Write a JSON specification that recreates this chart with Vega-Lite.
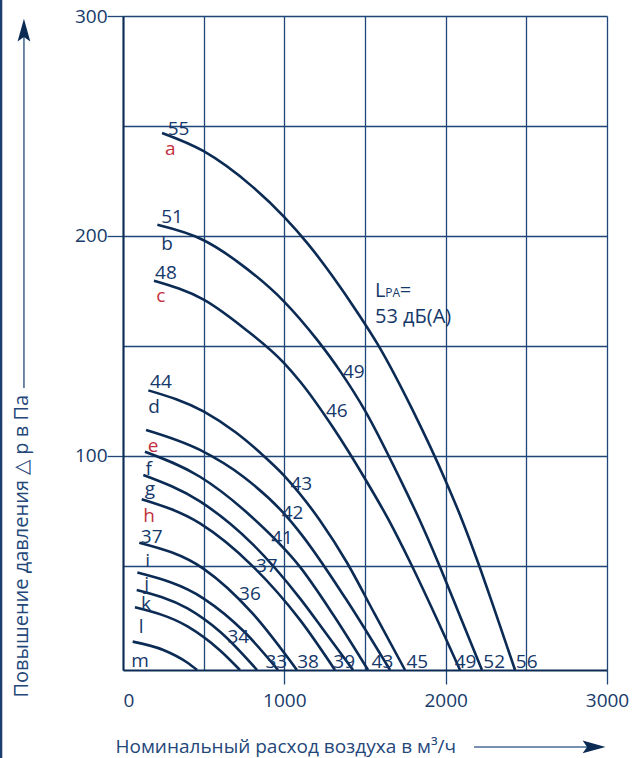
{
  "$schema": "https://vega.github.io/schema/vega-lite/v6.json",
  "width": 484,
  "height": 654,
  "autosize": "none",
  "padding": {"left": 123, "top": 16, "right": 25, "bottom": 88},
  "background": "white",
  "config": {
    "view": {"stroke": null},
    "font": "Open Sans",
    "text": {"font": "Open Sans"}
  },
  "datasets": {
    "curves": [
      {"curve": "a", "flow": 242, "pressure": 246.8},
      {"curve": "a", "flow": 500, "pressure": 238.5},
      {"curve": "a", "flow": 800, "pressure": 222.5},
      {"curve": "a", "flow": 1000, "pressure": 208.5},
      {"curve": "a", "flow": 1150, "pressure": 196},
      {"curve": "a", "flow": 1300, "pressure": 181.5},
      {"curve": "a", "flow": 1450, "pressure": 165.5},
      {"curve": "a", "flow": 1580, "pressure": 150.5},
      {"curve": "a", "flow": 1800, "pressure": 120},
      {"curve": "a", "flow": 2000, "pressure": 88.5},
      {"curve": "a", "flow": 2100, "pressure": 71},
      {"curve": "a", "flow": 2200, "pressure": 51.5},
      {"curve": "a", "flow": 2300, "pressure": 30.5},
      {"curve": "a", "flow": 2430, "pressure": 2.5},
      {"curve": "b", "flow": 213, "pressure": 205},
      {"curve": "b", "flow": 500, "pressure": 198},
      {"curve": "b", "flow": 750, "pressure": 186},
      {"curve": "b", "flow": 1000, "pressure": 170},
      {"curve": "b", "flow": 1200, "pressure": 153},
      {"curve": "b", "flow": 1350, "pressure": 138},
      {"curve": "b", "flow": 1500, "pressure": 120.5},
      {"curve": "b", "flow": 1720, "pressure": 89},
      {"curve": "b", "flow": 1840, "pressure": 70.5},
      {"curve": "b", "flow": 1950, "pressure": 52},
      {"curve": "b", "flow": 2100, "pressure": 25},
      {"curve": "b", "flow": 2225, "pressure": 2.5},
      {"curve": "c", "flow": 192, "pressure": 179.6},
      {"curve": "c", "flow": 500, "pressure": 171},
      {"curve": "c", "flow": 750, "pressure": 158},
      {"curve": "c", "flow": 1000, "pressure": 142},
      {"curve": "c", "flow": 1100, "pressure": 133.5},
      {"curve": "c", "flow": 1300, "pressure": 113},
      {"curve": "c", "flow": 1500, "pressure": 89.5},
      {"curve": "c", "flow": 1645, "pressure": 71},
      {"curve": "c", "flow": 1780, "pressure": 51.5},
      {"curve": "c", "flow": 1950, "pressure": 25},
      {"curve": "c", "flow": 2089, "pressure": 2.5},
      {"curve": "d", "flow": 157, "pressure": 129.7},
      {"curve": "d", "flow": 502, "pressure": 120},
      {"curve": "d", "flow": 700, "pressure": 110.5},
      {"curve": "d", "flow": 870, "pressure": 100},
      {"curve": "d", "flow": 1004, "pressure": 90.5},
      {"curve": "d", "flow": 1221, "pressure": 70.5},
      {"curve": "d", "flow": 1387, "pressure": 51.5},
      {"curve": "d", "flow": 1560, "pressure": 28},
      {"curve": "d", "flow": 1748, "pressure": 2.5},
      {"curve": "e", "flow": 143, "pressure": 111.7},
      {"curve": "e", "flow": 477, "pressure": 102.6},
      {"curve": "e", "flow": 746, "pressure": 90.4},
      {"curve": "e", "flow": 1000, "pressure": 73.5},
      {"curve": "e", "flow": 1097, "pressure": 65},
      {"curve": "e", "flow": 1380, "pressure": 35},
      {"curve": "e", "flow": 1655, "pressure": 2.5},
      {"curve": "f", "flow": 136, "pressure": 101.8},
      {"curve": "f", "flow": 477, "pressure": 90.4},
      {"curve": "f", "flow": 800, "pressure": 72},
      {"curve": "f", "flow": 1097, "pressure": 49.4},
      {"curve": "f", "flow": 1300, "pressure": 28},
      {"curve": "f", "flow": 1519, "pressure": 2.5},
      {"curve": "g", "flow": 126, "pressure": 91.2},
      {"curve": "g", "flow": 477, "pressure": 79.2},
      {"curve": "g", "flow": 800, "pressure": 60},
      {"curve": "g", "flow": 1097, "pressure": 35.1},
      {"curve": "g", "flow": 1260, "pressure": 19},
      {"curve": "g", "flow": 1426, "pressure": 2.5},
      {"curve": "h", "flow": 116, "pressure": 80.2},
      {"curve": "h", "flow": 477, "pressure": 69.2},
      {"curve": "h", "flow": 800, "pressure": 50},
      {"curve": "h", "flow": 1097, "pressure": 25.3},
      {"curve": "h", "flow": 1314, "pressure": 2.5},
      {"curve": "i", "flow": 101, "pressure": 60.4},
      {"curve": "i", "flow": 500, "pressure": 48.5},
      {"curve": "i", "flow": 800, "pressure": 28.5},
      {"curve": "i", "flow": 1078, "pressure": 2.5},
      {"curve": "j", "flow": 89, "pressure": 46.8},
      {"curve": "j", "flow": 500, "pressure": 35},
      {"curve": "j", "flow": 750, "pressure": 20},
      {"curve": "j", "flow": 961, "pressure": 2.5},
      {"curve": "k", "flow": 85, "pressure": 38.9},
      {"curve": "k", "flow": 400, "pressure": 30.5},
      {"curve": "k", "flow": 600, "pressure": 20},
      {"curve": "k", "flow": 831, "pressure": 2.5},
      {"curve": "l", "flow": 74, "pressure": 31},
      {"curve": "l", "flow": 400, "pressure": 22.3},
      {"curve": "l", "flow": 600, "pressure": 11.5},
      {"curve": "l", "flow": 725, "pressure": 2.5},
      {"curve": "m", "flow": 60, "pressure": 15.4},
      {"curve": "m", "flow": 250, "pressure": 11.6},
      {"curve": "m", "flow": 400, "pressure": 5.8},
      {"curve": "m", "flow": 459, "pressure": 2.5}
    ],
    "labels": [
      {"text": "55", "flow": 344, "pressure": 245.9, "highlighted": false},
      {"text": "a", "flow": 293, "pressure": 236.8, "highlighted": true},
      {"text": "51", "flow": 304, "pressure": 206.0, "highlighted": false},
      {"text": "b", "flow": 273, "pressure": 193.6, "highlighted": false},
      {"text": "48", "flow": 266, "pressure": 180.2, "highlighted": false},
      {"text": "c", "flow": 235, "pressure": 170.0, "highlighted": true},
      {"text": "44", "flow": 235, "pressure": 130.6, "highlighted": false},
      {"text": "d", "flow": 192, "pressure": 119.3, "highlighted": false},
      {"text": "e", "flow": 186, "pressure": 101.8, "highlighted": true},
      {"text": "f", "flow": 159, "pressure": 91.2, "highlighted": false},
      {"text": "g", "flow": 167, "pressure": 82.1, "highlighted": false},
      {"text": "h", "flow": 161, "pressure": 70.0, "highlighted": true},
      {"text": "37", "flow": 178, "pressure": 60.1, "highlighted": false},
      {"text": "i", "flow": 152, "pressure": 49.5, "highlighted": false},
      {"text": "j", "flow": 147, "pressure": 38.9, "highlighted": false},
      {"text": "k", "flow": 143, "pressure": 29.8, "highlighted": false},
      {"text": "l", "flow": 112, "pressure": 19.3, "highlighted": false},
      {"text": "m", "flow": 105, "pressure": 4.0, "highlighted": false},
      {"text": "49", "flow": 1431, "pressure": 135.2, "highlighted": false},
      {"text": "46", "flow": 1325, "pressure": 117.7, "highlighted": false},
      {"text": "43", "flow": 1105, "pressure": 84.4, "highlighted": false},
      {"text": "42", "flow": 1051, "pressure": 71.1, "highlighted": false},
      {"text": "41", "flow": 986, "pressure": 59.8, "highlighted": false},
      {"text": "37", "flow": 891, "pressure": 47.2, "highlighted": false},
      {"text": "36", "flow": 787, "pressure": 34.3, "highlighted": false},
      {"text": "34", "flow": 715, "pressure": 14.6, "highlighted": false},
      {"text": "33", "flow": 950, "pressure": 3.3, "highlighted": false},
      {"text": "38", "flow": 1147, "pressure": 3.3, "highlighted": false},
      {"text": "39", "flow": 1371, "pressure": 3.3, "highlighted": false},
      {"text": "43", "flow": 1608, "pressure": 3.3, "highlighted": false},
      {"text": "45", "flow": 1824, "pressure": 3.3, "highlighted": false},
      {"text": "49", "flow": 2123, "pressure": 3.3, "highlighted": false},
      {"text": "52", "flow": 2301, "pressure": 3.3, "highlighted": false},
      {"text": "56", "flow": 2502, "pressure": 3.3, "highlighted": false}
    ],
    "note": [
      {"text": "L", "flow": 1562, "pressure": 172.3},
      {"text": "=", "flow": 1715, "pressure": 172.3},
      {"text": "53 дБ(A)", "flow": 1562, "pressure": 160.2}
    ],
    "subscripts": [
      {"text": "PA", "flow": 1625, "pressure": 172.3}
    ],
    "arrowShafts": [
      {"flow": -614, "flow2": -614, "pressure": 130.8, "pressure2": 293.6},
      {"flow": 2176, "flow2": 2882, "pressure": -32.5, "pressure2": -32.5}
    ],
    "arrowHeads": [
      {"flow": -614, "pressure": 293.0, "direction": "up"},
      {"flow": 2912, "pressure": -32.5, "direction": "right"}
    ],
    "border": [
      {"flow": -756, "pressure": 307.5, "pressure2": -37.5}
    ]
  },
  "layer": [
    {
      "data": {"name": "curves"},
      "mark": {"type": "line", "interpolate": "monotone", "color": "#0b2b55", "strokeWidth": 2.6},
      "encoding": {
        "x": {
          "field": "flow", "type": "quantitative",
          "scale": {"domain": [0, 3000], "nice": false, "zero": false},
          "axis": {
            "values": [0, 500, 1000, 1500, 2000, 2500, 3000],
            "format": "d",
            "grid": true, "gridColor": "#1f4677", "gridWidth": 1.3, "gridOpacity": 1,
            "domain": true, "domainColor": "#0b2b55", "domainWidth": 2,
            "ticks": true, "tickColor": "#1f4677", "tickSize": 14, "tickWidth": 1.3,
            "tickOpacity": {"condition": {"test": "datum.value > 0 && datum.value % 1000 === 0", "value": 1}, "value": 0},
            "labelExpr": "datum.value % 1000 === 0 ? datum.label : ''",
            "labelAlign": {"condition": {"test": "datum.value === 0", "value": "left"}, "value": "center"},
            "labelFlush": false,
            "labelOverlap": false,
            "labelFont": "Open Sans", "labelFontSize": 19, "labelColor": "#173a69", "labelPadding": 7,
            "title": "Номинальный расход воздуха в м³/ч",
            "titleFont": "Open Sans", "titleFontSize": 19, "titleFontWeight": "normal", "titleColor": "#24477a",
            "titleAlign": "left", "titleBaseline": "alphabetic", "titleX": -8, "titleY": 82
          }
        },
        "y": {
          "field": "pressure", "type": "quantitative",
          "scale": {"domain": [2.5, 300], "nice": false, "zero": false},
          "axis": {
            "values": [50, 100, 150, 200, 250, 300],
            "grid": true, "gridColor": "#1f4677", "gridWidth": 1.3, "gridOpacity": 1,
            "domain": true, "domainColor": "#0b2b55", "domainWidth": 2,
            "ticks": true, "tickColor": "#1f4677", "tickSize": 16, "tickWidth": 1.3,
            "tickOpacity": {"condition": {"test": "datum.value % 100 === 0", "value": 1}, "value": 0},
            "labelExpr": "datum.value % 100 === 0 ? datum.label : ''",
            "labelOverlap": false,
            "labelFont": "Open Sans", "labelFontSize": 19, "labelColor": "#173a69", "labelPadding": 0,
            "title": "Повышение давления △ р в Па",
            "titleFont": "Open Sans", "titleFontSize": 20, "titleFontWeight": "normal", "titleColor": "#24477a",
            "titleAngle": 270, "titleAlign": "left", "titleBaseline": "alphabetic", "titleX": -96, "titleY": 681
          }
        },
        "detail": {"field": "curve", "type": "nominal"}
      }
    },
    {
      "data": {"name": "labels"},
      "mark": {"type": "text", "align": "center", "baseline": "alphabetic", "font": "Open Sans", "fontSize": 19},
      "encoding": {
        "x": {"field": "flow", "type": "quantitative"},
        "y": {"field": "pressure", "type": "quantitative"},
        "text": {"field": "text", "type": "nominal"},
        "color": {"condition": {"test": "datum.highlighted", "value": "#c3303d"}, "value": "#15386a"}
      }
    },
    {
      "data": {"name": "note"},
      "mark": {"type": "text", "align": "left", "baseline": "alphabetic", "font": "Open Sans", "fontSize": 20, "color": "#15386a"},
      "encoding": {
        "x": {"field": "flow", "type": "quantitative"},
        "y": {"field": "pressure", "type": "quantitative"},
        "text": {"field": "text", "type": "nominal"}
      }
    },
    {
      "data": {"name": "subscripts"},
      "mark": {"type": "text", "align": "left", "baseline": "alphabetic", "font": "Open Sans", "fontSize": 12, "color": "#15386a"},
      "encoding": {
        "x": {"field": "flow", "type": "quantitative"},
        "y": {"field": "pressure", "type": "quantitative"},
        "text": {"field": "text", "type": "nominal"}
      }
    },
    {
      "data": {"name": "arrowShafts"},
      "mark": {"type": "rule", "color": "#4a6b94", "strokeWidth": 1.6},
      "encoding": {
        "x": {"field": "flow", "type": "quantitative"},
        "x2": {"field": "flow2"},
        "y": {"field": "pressure", "type": "quantitative"},
        "y2": {"field": "pressure2"}
      }
    },
    {
      "data": {"name": "arrowHeads"},
      "mark": {"type": "point", "filled": true, "color": "#0b2b55", "opacity": 1, "size": 650},
      "encoding": {
        "x": {"field": "flow", "type": "quantitative"},
        "y": {"field": "pressure", "type": "quantitative"},
        "shape": {
          "field": "direction", "type": "nominal", "legend": null,
          "scale": {"domain": ["up", "right"], "range": ["M0,-1L0.5,0.8L0,0.45L-0.5,0.8Z", "M1,0L-0.8,0.5L-0.45,0L-0.8,-0.5Z"]}
        }
      }
    },
    {
      "data": {"name": "border"},
      "mark": {"type": "rule", "color": "#1c3f70", "strokeWidth": 2.5},
      "encoding": {
        "x": {"field": "flow", "type": "quantitative"},
        "y": {"field": "pressure", "type": "quantitative"},
        "y2": {"field": "pressure2"}
      }
    }
  ]
}
